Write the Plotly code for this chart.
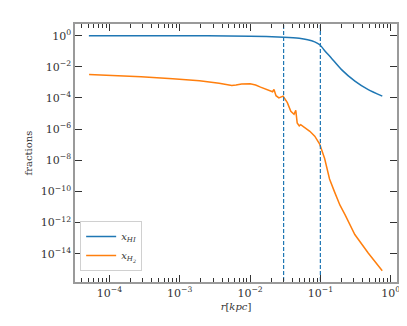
import numpy as np
import plotly.graph_objects as go

# radius [kpc] and HI fraction
r_hi = [5.1e-5, 3.2e-4, 2.5e-3, 1.0e-2, 3.0e-2, 5.0e-2, 6.6e-2, 8.3e-2, 9.8e-2,
        0.117, 0.143, 0.2, 0.31, 0.48, 0.76]
x_hi = [1.0, 1.0, 0.98, 0.93, 0.8, 0.68, 0.55, 0.4, 0.26,
        0.1, 0.037, 6.6e-3, 1.2e-3, 3.4e-4, 1.3e-4]

# radius [kpc] and H2 fraction
r_h2 = [5.13e-5, 1.26e-4, 2.82e-4, 7.94e-4, 1.91e-3, 3.63e-3, 4.9e-3, 5.5e-3,
        6.31e-3, 7.59e-3, 1.0e-2, 1.2e-2, 1.41e-2, 1.74e-2, 1.95e-2, 2.09e-2,
        2.19e-2, 2.34e-2, 2.57e-2, 2.95e-2, 3.39e-2, 3.8e-2, 4.22e-2, 4.47e-2,
        4.68e-2, 5.01e-2, 5.25e-2, 6.03e-2, 7.08e-2, 8.32e-2, 9.77e-2, 0.115,
        0.135, 0.158, 0.19, 0.224, 0.309, 0.479, 0.759]
x_h2 = [3.16e-3, 2.82e-3, 2.34e-3, 1.74e-3, 1.29e-3, 8.9e-4, 7.4e-4, 6.3e-4,
        6.8e-4, 7.9e-4, 8.1e-4, 6.8e-4, 5.0e-4, 3.3e-4, 2.8e-4, 2.5e-4,
        3.5e-4, 1.4e-4, 1.0e-4, 1.3e-4, 5.0e-5, 1.4e-5, 8.9e-6, 1.6e-5,
        2.5e-6, 1.6e-6, 1.9e-6, 1.2e-6, 7.2e-7, 3.5e-7, 1.1e-7, 1.3e-8,
        6.3e-10, 1.0e-10, 1.3e-11, 3.2e-12, 1.7e-13, 1.1e-14, 7.9e-16]

# dashed marker radii
r_marks = [0.03, 0.1]

xtick_vals = [1e-4, 1e-3, 1e-2, 1e-1, 1e0]
xtick_text = ["10<sup>−4</sup>", "10<sup>−3</sup>", "10<sup>−2</sup>", "10<sup>−1</sup>", "10<sup>0</sup>"]
ytick_vals = [1e0, 1e-2, 1e-4, 1e-6, 1e-8, 1e-10, 1e-12, 1e-14]
ytick_text = ["10<sup>0</sup>", "10<sup>−2</sup>", "10<sup>−4</sup>", "10<sup>−6</sup>",
              "10<sup>−8</sup>", "10<sup>−10</sup>", "10<sup>−12</sup>", "10<sup>−14</sup>"]

FONT = "DejaVu Serif, serif"
blue = "#1f77b4"
orange = "#ff7f0e"

fig = go.Figure()
fig.add_trace(go.Scatter(x=r_hi, y=x_hi, mode="lines", name="<i>x<sub>HI</sub></i>",
                         line=dict(color=blue, width=1.5, shape="spline", smoothing=0.6)))
fig.add_trace(go.Scatter(x=r_h2, y=x_h2, mode="lines", name="<i>x<sub>H<sub>2</sub></sub></i>",
                         line=dict(color=orange, width=1.5)))
for rm in r_marks:
    fig.add_trace(go.Scatter(x=[rm, rm], y=[1e-20, 1e5], mode="lines", showlegend=False,
                             line=dict(color=blue, width=1.2, dash="4px,2px")))

minor_x = [m * 10.0 ** e for e in range(-5, 1) for m in range(2, 10)]

axis_common = dict(type="log", showgrid=False, zeroline=False, showline=True,
                   linecolor="#9a9a9a", linewidth=1.5, mirror="allticks",
                   ticks="inside", tickcolor="#333", tickwidth=1.2, ticklen=7,
                   tickfont=dict(family=FONT, size=11, color="#333"))

fig.update_layout(
    width=407, height=326,
    margin=dict(l=67, r=18, t=16, b=52, autoexpand=False),
    plot_bgcolor="white", paper_bgcolor="white",
    font=dict(family=FONT, color="#333"),
    xaxis=dict(**axis_common, range=[-4.49, 0.09], tickvals=xtick_vals, ticktext=xtick_text,
               minor=dict(tickvals=minor_x, ticks="inside", ticklen=4, tickcolor="#333", tickwidth=1),
               title=dict(text="<i>r</i>[<i>kpc</i>]", font=dict(family=FONT, size=10), standoff=4)),
    yaxis=dict(**axis_common, range=[-15.82, 0.75], tickvals=ytick_vals, ticktext=ytick_text,
               title=dict(text="fractions", font=dict(family=FONT, size=10), standoff=6)),
    legend=dict(x=0.016, y=0.043, xanchor="left", yanchor="bottom",
                bgcolor="white", bordercolor="#d0d0d0", borderwidth=1,
                font=dict(family=FONT, size=10), itemwidth=30, tracegroupgap=0),
    showlegend=True,
)

fig.write_html("out.html")
